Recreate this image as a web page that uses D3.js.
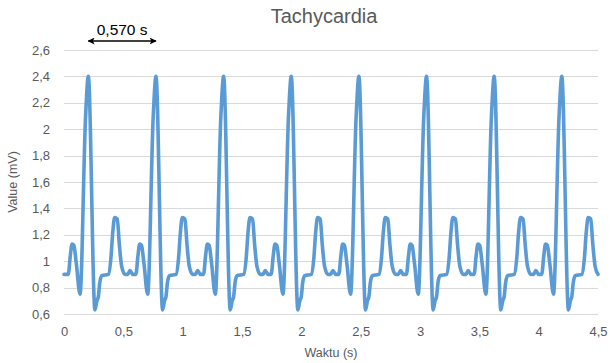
<!DOCTYPE html>
<html>
<head>
<meta charset="utf-8">
<script src="https://cdn.jsdelivr.net/npm/d3@7"></script>
<style>
  html, body { margin: 0; padding: 0; background: #ffffff; }
  svg { display: block; }
  text { font-family: "Liberation Sans", Arial, sans-serif; }
</style>
</head>
<body>
<script>
// ---- Data ----
const chartTitle = "Tachycardia";
const xTitle = "Waktu (s)";
const yTitle = "Value (mV)";

const xTicks = [0, 0.5, 1, 1.5, 2, 2.5, 3, 3.5, 4, 4.5];
const yTicks = [0.6, 0.8, 1, 1.2, 1.4, 1.6, 1.8, 2, 2.2, 2.4, 2.6];

// time (s) of every vertex of the trace
const time = [
  0.000,
  0.036, 0.053, 0.068, 0.083, 0.104, 0.135, 0.182, 0.205, 0.261, 0.277, 0.289, 0.302, 0.318, 0.374, 0.395, 0.411, 0.427, 0.449, 0.466, 0.486, 0.514, 0.538, 0.556, 0.580,
  0.606, 0.623, 0.638, 0.653, 0.674, 0.705, 0.752, 0.775, 0.831, 0.847, 0.859, 0.872, 0.888, 0.944, 0.965, 0.981, 0.997, 1.019, 1.036, 1.056, 1.084, 1.108, 1.126, 1.150,
  1.176, 1.193, 1.208, 1.223, 1.244, 1.275, 1.322, 1.345, 1.401, 1.417, 1.429, 1.442, 1.458, 1.514, 1.535, 1.551, 1.567, 1.589, 1.606, 1.626, 1.654, 1.678, 1.696, 1.720,
  1.746, 1.763, 1.778, 1.793, 1.814, 1.845, 1.892, 1.915, 1.971, 1.987, 1.999, 2.012, 2.028, 2.084, 2.105, 2.121, 2.137, 2.159, 2.176, 2.196, 2.224, 2.248, 2.266, 2.290,
  2.316, 2.333, 2.348, 2.363, 2.384, 2.415, 2.462, 2.485, 2.541, 2.557, 2.569, 2.582, 2.598, 2.654, 2.675, 2.691, 2.707, 2.729, 2.746, 2.766, 2.794, 2.818, 2.836, 2.860,
  2.886, 2.903, 2.918, 2.933, 2.954, 2.985, 3.032, 3.055, 3.111, 3.127, 3.139, 3.152, 3.168, 3.224, 3.245, 3.261, 3.277, 3.299, 3.316, 3.336, 3.364, 3.388, 3.406, 3.430,
  3.456, 3.473, 3.488, 3.503, 3.524, 3.555, 3.602, 3.625, 3.681, 3.697, 3.709, 3.722, 3.738, 3.794, 3.815, 3.831, 3.847, 3.869, 3.886, 3.906, 3.934, 3.958, 3.976, 4.000,
  4.026, 4.043, 4.058, 4.073, 4.094, 4.125, 4.172, 4.195, 4.251, 4.267, 4.279, 4.292, 4.308, 4.364, 4.385, 4.401, 4.417, 4.439, 4.456, 4.476, 4.500
];

// value (mV) of every vertex of the trace
const value = [
  0.90,
  0.90, 1.04, 1.13, 1.12, 0.98, 0.75, 2.10, 2.40, 0.63, 0.70, 0.73, 0.84, 0.89, 0.90, 1.02, 1.22, 1.33, 1.32, 1.13, 0.96, 0.90, 0.90, 0.93, 0.90,
  0.90, 1.04, 1.13, 1.12, 0.98, 0.75, 2.10, 2.40, 0.63, 0.70, 0.73, 0.84, 0.89, 0.90, 1.02, 1.22, 1.33, 1.32, 1.13, 0.96, 0.90, 0.90, 0.93, 0.90,
  0.90, 1.04, 1.13, 1.12, 0.98, 0.75, 2.10, 2.40, 0.63, 0.70, 0.73, 0.84, 0.89, 0.90, 1.02, 1.22, 1.33, 1.32, 1.13, 0.96, 0.90, 0.90, 0.93, 0.90,
  0.90, 1.04, 1.13, 1.12, 0.98, 0.75, 2.10, 2.40, 0.63, 0.70, 0.73, 0.84, 0.89, 0.90, 1.02, 1.22, 1.33, 1.32, 1.13, 0.96, 0.90, 0.90, 0.93, 0.90,
  0.90, 1.04, 1.13, 1.12, 0.98, 0.75, 2.10, 2.40, 0.63, 0.70, 0.73, 0.84, 0.89, 0.90, 1.02, 1.22, 1.33, 1.32, 1.13, 0.96, 0.90, 0.90, 0.93, 0.90,
  0.90, 1.04, 1.13, 1.12, 0.98, 0.75, 2.10, 2.40, 0.63, 0.70, 0.73, 0.84, 0.89, 0.90, 1.02, 1.22, 1.33, 1.32, 1.13, 0.96, 0.90, 0.90, 0.93, 0.90,
  0.90, 1.04, 1.13, 1.12, 0.98, 0.75, 2.10, 2.40, 0.63, 0.70, 0.73, 0.84, 0.89, 0.90, 1.02, 1.22, 1.33, 1.32, 1.13, 0.96, 0.90, 0.90, 0.93, 0.90,
  0.90, 1.04, 1.13, 1.12, 0.98, 0.75, 2.10, 2.40, 0.63, 0.70, 0.73, 0.84, 0.89, 0.90, 1.02, 1.22, 1.33, 1.32, 1.13, 0.96, 0.90
];

// annotation: interval between the first two R peaks
const intervalLabel = "0,570 s";
const intervalStart = 0.205;
const intervalEnd = 0.775;

// ---- Drawing ----
const W = 610, H = 363;
const margin = { left: 64, right: 12, top: 50, bottom: 49 };

const svg = d3.select("body").append("svg")
  .attr("width", W).attr("height", H);

const x = d3.scaleLinear().domain([0, 4.5]).range([margin.left, W - margin.right]);
const y = d3.scaleLinear().domain([0.6, 2.6]).range([H - margin.bottom, margin.top]);

const fmt = d => d3.format("~g")(d).replace(".", ",");
const grey = "#595959";

// gridlines
svg.append("g").selectAll("line").data(yTicks).join("line")
  .attr("x1", x(0)).attr("x2", x(4.5))
  .attr("y1", d => Math.round(y(d)) + 0.5).attr("y2", d => Math.round(y(d)) + 0.5)
  .attr("stroke", "#d9d9d9").attr("stroke-width", 1);

// y axis labels
const yAxis = d3.axisLeft(y).tickValues(yTicks).tickFormat(fmt).tickSize(0).tickPadding(14);
const gy = svg.append("g").attr("transform", `translate(${x(0)},0)`).call(yAxis);
gy.select(".domain").remove();
gy.selectAll("text").attr("fill", grey).style("font-size", "13px")
  .style("font-family", "Liberation Sans, Arial, sans-serif");

// x axis labels
const xAxis = d3.axisBottom(x).tickValues(xTicks).tickFormat(fmt).tickSize(0).tickPadding(13);
const gx = svg.append("g").attr("transform", `translate(0,${y(0.6)})`).call(xAxis);
gx.select(".domain").remove();
gx.selectAll("text").attr("fill", grey).style("font-size", "13px")
  .style("font-family", "Liberation Sans, Arial, sans-serif");

// trace
const pts = time.map((t, i) => [t, value[i]]);
const line = d3.line().x(d => x(d[0])).y(d => y(d[1])).curve(d3.curveMonotoneX);
svg.append("path").datum(pts)
  .attr("d", line)
  .attr("fill", "none")
  .attr("stroke", "#5b9bd5")
  .attr("stroke-width", 3.6)
  .attr("stroke-linejoin", "round")
  .attr("stroke-linecap", "round");

// title
svg.append("text").attr("x", 324).attr("y", 22.5)
  .attr("text-anchor", "middle").attr("fill", grey)
  .style("font-size", "20px").text(chartTitle);

// axis titles
svg.append("text").attr("x", (x(0) + x(4.5)) / 2).attr("y", 357)
  .attr("text-anchor", "middle").attr("fill", grey)
  .style("font-size", "12.5px").text(xTitle);

svg.append("text")
  .attr("transform", `translate(17,${(y(0.6) + y(2.6)) / 2}) rotate(-90)`)
  .attr("text-anchor", "middle").attr("fill", grey)
  .style("font-size", "12.5px").text(yTitle);

// annotation arrow
const defs = svg.append("defs");
defs.append("marker").attr("id", "ah").attr("viewBox", "0 0 10 10")
  .attr("refX", 9).attr("refY", 5).attr("markerWidth", 7).attr("markerHeight", 7)
  .attr("orient", "auto-start-reverse").attr("markerUnits", "userSpaceOnUse")
  .append("path").attr("d", "M0,0 L10,5 L0,10 L2.5,5 Z").attr("fill", "#000");

const ay = 41;
svg.append("line")
  .attr("x1", x(intervalStart)).attr("x2", x(intervalEnd))
  .attr("y1", ay).attr("y2", ay)
  .attr("stroke", "#000").attr("stroke-width", 1.6)
  .attr("marker-start", "url(#ah)").attr("marker-end", "url(#ah)");

svg.append("text")
  .attr("x", (x(intervalStart) + x(intervalEnd)) / 2).attr("y", 35)
  .attr("text-anchor", "middle").attr("fill", "#000")
  .style("font-size", "15.5px").text(intervalLabel);
</script>
</body>
</html>
